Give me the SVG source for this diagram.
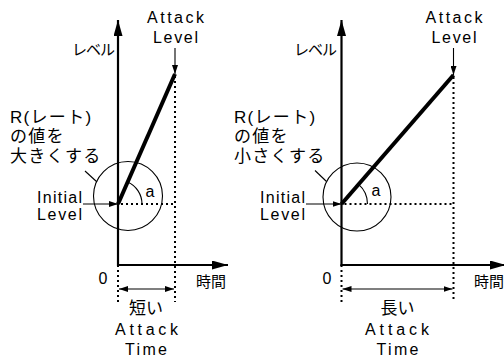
<svg xmlns="http://www.w3.org/2000/svg" width="504" height="358" viewBox="0 0 504 358">
<style>
text{font-family:"Liberation Sans","Noto Sans CJK JP",sans-serif;fill:#000;}
.lat{font-size:16px;}
.jp{font-size:17px;letter-spacing:1.3px;}
.sm{font-size:15px;letter-spacing:-1px;}
.mid{text-anchor:middle;}
.axis{stroke:#000;stroke-width:2.2;fill:none;}
.thick{stroke:#000;stroke-width:4;fill:none;}
.dot{stroke:#000;stroke-width:2;stroke-dasharray:2 3;fill:none;}
.thin{stroke:#000;stroke-width:1.1;fill:none;}
</style>
<defs>
<marker id="big" markerUnits="userSpaceOnUse" markerWidth="16" markerHeight="9" refX="16" refY="4.5" orient="auto" viewBox="0 0 16 9"><path d="M0,0 L16,4.5 L0,9 z" fill="#000"/></marker>
<marker id="sm" markerUnits="userSpaceOnUse" markerWidth="9" markerHeight="6" refX="9" refY="3" orient="auto" viewBox="0 0 9 6"><path d="M0,0 L9,3 L0,6 z" fill="#000"/></marker>
<marker id="sms" markerUnits="userSpaceOnUse" markerWidth="9" markerHeight="6" refX="0" refY="3" orient="auto" viewBox="0 0 9 6"><path d="M9,0 L0,3 L9,6 z" fill="#000"/></marker>
</defs>

<g id="connectors">
<line class="dot" x1="175" y1="76" x2="175" y2="302"/>
<line class="dot" x1="118" y1="265" x2="118" y2="302"/>
<line class="dot" x1="121" y1="204" x2="175" y2="204"/>
<line class="axis" x1="118" y1="266" x2="118" y2="20" marker-end="url(#big)"/>
<line class="axis" x1="117" y1="265" x2="228" y2="265" marker-end="url(#big)"/>
<line class="thick" x1="118" y1="204" x2="175" y2="74"/>
<circle class="thin" cx="128" cy="196" r="34.5"/>
<path class="thin" d="M142,204 A24,24 0 0 0 127.6,182"/>
<line class="thin" x1="83" y1="204" x2="118" y2="204" marker-end="url(#sm)"/>
<line class="thin" x1="175" y1="48" x2="175" y2="74" marker-end="url(#sm)"/>
<line class="thin" x1="85" y1="171" x2="97" y2="182"/>
<line class="thin" x1="119" y1="289" x2="174" y2="289" marker-start="url(#sms)" marker-end="url(#sm)"/>
<line class="dot" x1="453.5" y1="77" x2="453.5" y2="302"/>
<line class="dot" x1="341.5" y1="265" x2="341.5" y2="302"/>
<line class="dot" x1="344.5" y1="204" x2="453.5" y2="204"/>
<line class="axis" x1="341.5" y1="266" x2="341.5" y2="20" marker-end="url(#big)"/>
<line class="axis" x1="340.5" y1="265" x2="506" y2="265" marker-end="url(#big)"/>
<line class="thick" x1="341.5" y1="204" x2="453.5" y2="75"/>
<circle class="thin" cx="357" cy="197" r="34"/>
<path class="thin" d="M367.5,204 A26,26 0 0 0 358.6,184.4"/>
<line class="thin" x1="306" y1="204" x2="341.5" y2="204" marker-end="url(#sm)"/>
<line class="thin" x1="453.5" y1="48" x2="453.5" y2="75" marker-end="url(#sm)"/>
<line class="thin" x1="315" y1="170.5" x2="326.5" y2="181.5"/>
<line class="thin" x1="342.5" y1="289" x2="452.5" y2="289" marker-start="url(#sms)" marker-end="url(#sm)"/>
</g>

<g id="left-graph">
<text class="sm" x="72" y="55">レベル</text>
<text class="lat mid" x="175.5" y="23" textLength="57" lengthAdjust="spacing">Attack</text>
<text class="lat mid" x="175.5" y="43" textLength="45" lengthAdjust="spacing">Level</text>
<text class="jp" x="10" y="122.5">R(レート)</text>
<text class="jp" x="10" y="142">の値を</text>
<text class="jp" x="10" y="161.5">大きくする</text>
<text class="lat" x="37" y="202.5" textLength="45" lengthAdjust="spacing">Initial</text>
<text class="lat" x="37" y="220" textLength="45" lengthAdjust="spacing">Level</text>
<text class="lat" x="150" y="197" font-size="17" text-anchor="middle">a</text>
<text class="lat mid" x="103" y="284">0</text>
<text x="196" y="287" font-size="15">時間</text>
<text class="mid" x="146" y="314" font-size="17">短い</text>
<text class="lat mid" x="146.5" y="335" textLength="63" lengthAdjust="spacing">Attack</text>
<text class="lat mid" x="146" y="355" textLength="42" lengthAdjust="spacing">Time</text>
</g>

<g id="right-graph">
<text class="sm" x="294" y="55">レベル</text>
<text class="lat mid" x="454" y="23" textLength="57" lengthAdjust="spacing">Attack</text>
<text class="lat mid" x="454" y="43" textLength="45" lengthAdjust="spacing">Level</text>
<text class="jp" x="234" y="122.5">R(レート)</text>
<text class="jp" x="234" y="142">の値を</text>
<text class="jp" x="234" y="161.5">小さくする</text>
<text class="lat" x="260" y="202.5" textLength="45" lengthAdjust="spacing">Initial</text>
<text class="lat" x="260" y="220" textLength="45" lengthAdjust="spacing">Level</text>
<text class="lat" x="376" y="196" font-size="17" text-anchor="middle">a</text>
<text class="lat mid" x="327" y="284">0</text>
<text x="474" y="287" font-size="15">時間</text>
<text class="mid" x="397.5" y="314" font-size="17">長い</text>
<text class="lat mid" x="397" y="335" textLength="64" lengthAdjust="spacing">Attack</text>
<text class="lat mid" x="397.5" y="355" textLength="42" lengthAdjust="spacing">Time</text>
</g>
</svg>
